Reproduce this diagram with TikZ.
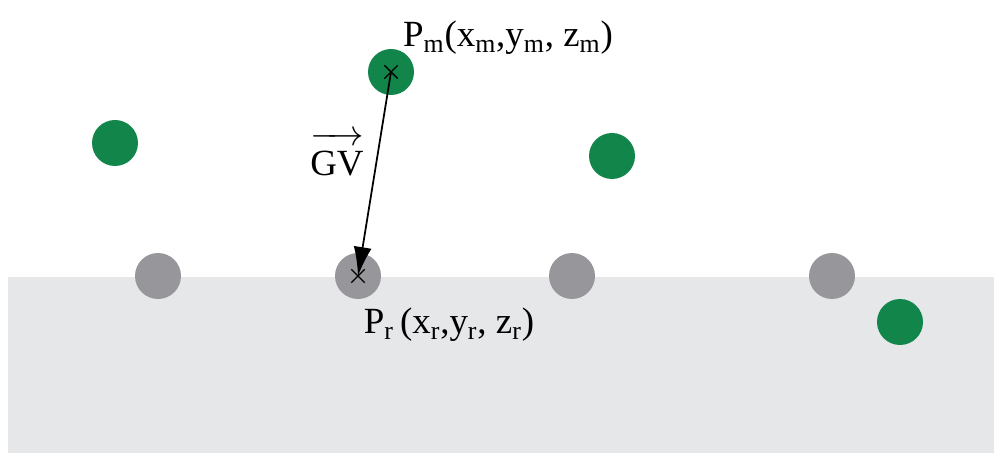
\documentclass[tikz,border=0pt]{standalone}
\usepackage{fontspec}
\setmainfont{Liberation Serif}
\usetikzlibrary{arrows.meta, positioning, shapes.misc}
\definecolor{dotgreen}{RGB}{18,134,74}
\definecolor{dotgray}{RGB}{150,150,155}
\definecolor{floorgray}{RGB}{230,231,233}
\tikzset{
  measured/.style={circle, fill=dotgreen, minimum size=0.92cm, inner sep=0pt},
  reference/.style={circle, fill=dotgray, minimum size=0.92cm, inner sep=0pt},
  mark x/.style={cross out, draw=black, line width=0.8pt, minimum size=0.24cm, inner sep=0pt},
  lbl/.style={font=\fontsize{21}{25}\selectfont, inner sep=0pt}
}

\begin{document}
\begin{tikzpicture}
    \useasboundingbox (0,0) rectangle (19.88,9.06);
    % floor
    \fill[floorgray] (0.16,0) rectangle (19.88,3.52);

    % reference points
    \node[reference] (r1) at (3.16, 3.54) {};
    \node[reference] (pr) at (7.16, 3.54) {};
    \node[reference] (r3) at (11.44, 3.54) {};
    \node[reference] (r4) at (16.64, 3.54) {};

    % measured points
    \node[measured] (pm) at (7.82, 7.62) {};
    \node[measured] (g1) at (2.30, 6.20) {};
    \node[measured] (g2) at (12.24, 5.94) {};
    \node[measured] (g3) at (18.00, 2.62) {};

    \node[mark x] (xm) at (pm.center) {};
    \node[mark x] (xr) at (pr.center) {};

    \draw[line width=1pt, -{Latex[length=0.58cm, width=0.36cm]}] (xm.center) -- (xr.center);

    \node[lbl] (pmlbl) at (10.16, 8.30) {P\textsubscript{m}(x\textsubscript{m},y\textsubscript{m}, z\textsubscript{m})};
    \node[lbl] (prlbl) at (8.98, 2.56) {P\textsubscript{r}\,(x\textsubscript{r},y\textsubscript{r}, z\textsubscript{r})};
    \node[lbl] (gv) at (6.74, 5.98) {$\overrightarrow{\mbox{GV}\rule{0pt}{0.85em}}$};
\end{tikzpicture}
\end{document}
